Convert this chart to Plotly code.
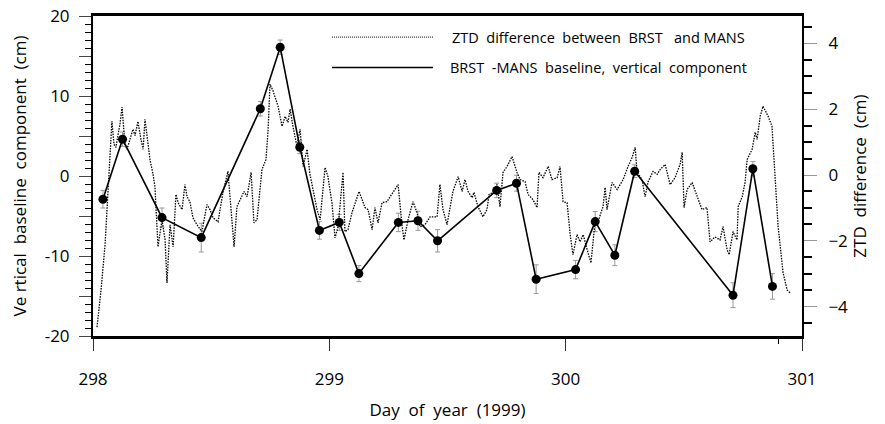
import plotly.graph_objects as go

# ---------------- data ----------------
# BRST-MANS baseline, vertical component (cm), left axis
base_day = [298.042, 298.125, 298.292, 298.458, 298.708, 298.792, 298.875, 298.958,
            299.042, 299.125, 299.292, 299.375, 299.458, 299.708, 299.792, 299.875,
            300.042, 300.125, 300.208, 300.292, 300.708, 300.792, 300.875]
base_cm = [-2.9, 4.6, -5.2, -7.7, 8.4, 16.1, 3.6, -6.8,
           -5.8, -12.2, -5.8, -5.6, -8.1, -1.8, -0.9, -12.9,
           -11.7, -5.7, -9.9, 0.6, -14.9, 0.9, -13.8]
base_err = [1.1, 0.9, 1.2, 1.8, 0.9, 0.9, 0.8, 1.1,
            1.0, 1.0, 1.15, 1.2, 1.4, 0.9, 1.0, 1.8,
            1.15, 1.25, 1.3, 0.8, 1.55, 0.9, 1.6]

# ZTD difference between BRST and MANS (cm), right axis
ztd_day = [
    298.017, 298.034, 298.051, 298.063, 298.072, 298.080, 298.089, 298.097, 298.106, 298.114,
    298.123, 298.135, 298.144, 298.157, 298.169, 298.178, 298.190, 298.203, 298.212, 298.220,
    298.229, 298.241, 298.254, 298.262, 298.275, 298.292, 298.305, 298.313, 298.326, 298.339,
    298.351, 298.360, 298.377, 298.389, 298.398, 298.410, 298.423, 298.440, 298.461, 298.474,
    298.482, 298.495, 298.508, 298.529, 298.550, 298.571, 298.580, 298.597, 298.609, 298.622,
    298.639, 298.652, 298.669, 298.681, 298.694, 298.715, 298.732, 298.741, 298.749, 298.762,
    298.770, 298.783, 298.800, 298.813, 298.825, 298.834, 298.846, 298.863, 298.876, 298.889,
    298.906, 298.918, 298.931, 298.948, 298.961, 298.982, 298.994, 299.011, 299.024, 299.037,
    299.058, 299.066, 299.079, 299.096, 299.126, 299.151, 299.164, 299.181, 299.193, 299.206,
    299.223, 299.244, 299.257, 299.270, 299.291, 299.308, 299.316, 299.333, 299.354, 299.371,
    299.384, 299.405, 299.426, 299.456, 299.468, 299.481, 299.498, 299.523, 299.545, 299.562,
    299.574, 299.587, 299.604, 299.612, 299.629, 299.650, 299.667, 299.676, 299.693, 299.710,
    299.722, 299.735, 299.752, 299.773, 299.794, 299.807, 299.828, 299.841, 299.862, 299.879,
    299.887, 299.904, 299.926, 299.942, 299.964, 299.976, 299.989, 300.006, 300.019, 300.031,
    300.048, 300.061, 300.074, 300.091, 300.107, 300.124, 300.137, 300.158, 300.167, 300.175,
    300.196, 300.218, 300.243, 300.264, 300.281, 300.294, 300.302, 300.315, 300.323, 300.336,
    300.349, 300.370, 300.387, 300.400, 300.421, 300.442, 300.463, 300.484, 300.493, 300.501,
    300.514, 300.535, 300.556, 300.577, 300.598, 300.611, 300.632, 300.653, 300.666, 300.683,
    300.692, 300.708, 300.725, 300.730, 300.747, 300.759, 300.768, 300.789, 300.802, 300.810,
    300.823, 300.835, 300.857, 300.873, 300.886, 300.899, 300.920, 300.937, 300.950]
ztd_cm = [
    -4.62, -3.49, -2.12, -0.44, 0.78, 1.63, 0.93, 0.84, 1.23, 1.54,
    2.06, 0.93, 0.78, 1.08, 1.39, 1.20, 1.63, 1.08, 0.78, 1.69,
    1.23, 0.47, 0.02, -0.35, -2.18, -1.36, -1.97, -3.28, -1.51, -2.18,
    -0.59, -0.84, -1.05, -0.29, -0.66, -0.81, -1.30, -1.51, -1.72, -1.27,
    -0.90, -1.05, -1.30, -1.42, -0.53, 0.11, -0.75, -2.18, -0.96, -0.75,
    -0.50, -0.66, 0.08, -1.45, -1.36, 0.17, 0.47, 1.39, 2.76, 2.55,
    2.39, 2.09, 1.48, 1.78, 1.60, 2.00, 1.48, 0.87, 1.39, 0.26,
    0.78, 0.02, -0.44, -1.05, -1.36, 0.23, -0.05, -0.84, -1.91, -1.57,
    0.08, -1.72, -1.66, -1.14, -0.50, -0.99, -1.05, -1.66, -0.99, -1.45,
    -0.84, -0.81, -0.66, -0.53, -0.29, -1.57, -1.97, -1.36, -0.81, -1.14,
    -1.57, -1.51, -1.27, -1.27, -0.29, -1.05, -1.51, -0.50, -0.05, -0.50,
    -0.14, -0.50, -0.69, -0.53, -0.96, -1.27, -1.05, -0.59, -0.53, -0.29,
    -0.96, 0.08, 0.26, 0.56, 0.08, -0.14, -0.20, -0.59, -0.75, -0.99,
    0.08, -0.08, 0.26, -0.14, -0.08, 0.26, -0.81, -0.84, -1.81, -2.42,
    -1.81, -2.03, -1.81, -2.27, -2.67, -1.45, -1.42, -0.96, -0.38, -1.05,
    -0.23, -0.44, -0.14, 0.26, 0.53, 0.84, 0.08, -0.05, -0.14, -0.66,
    -0.20, 0.11, 0.02, 0.17, 0.32, -0.29, -0.08, 0.32, 0.69, -0.99,
    -0.44, -0.23, -0.66, -1.05, -0.99, -2.03, -1.88, -1.97, -1.57, -2.27,
    -2.42, -1.72, -1.97, -0.96, -0.66, -0.23, 0.47, 0.78, 1.30, 1.08,
    1.78, 2.09, 1.78, 1.48, -0.05, -1.57, -2.97, -3.49, -3.58]

x_ticks = [298, 299, 300, 301]
x_ticktext = ["298", "299", "300", "301"]
y_ticks = [-20, -15, -10, -5, 0, 5, 10, 15, 20]
y_ticktext = ["-20", "", "-10", "", "0", "", "10", "", "20"]
legend_labels = ["ZTD  difference  between  BRST   and MANS",
                 "BRST  -MANS  baseline,  vertical  component"]

FONT = "Open Sans"

fig = go.Figure()

fig.add_trace(go.Scatter(
    x=ztd_day, y=ztd_cm, yaxis="y2", mode="lines",
    line=dict(color="black", width=1.3, dash="1.5px,1.2px"),
    name=legend_labels[0], showlegend=False))

fig.add_trace(go.Scatter(
    x=base_day, y=base_cm, mode="lines+markers",
    line=dict(color="black", width=1.6),
    marker=dict(color="black", size=9),
    error_y=dict(type="data", array=base_err, visible=True,
                 color="#999999", thickness=1, width=2.5),
    name=legend_labels[1], showlegend=False))

fig.update_layout(
    width=885, height=424,
    margin=dict(l=93, r=83, t=16, b=88, autoexpand=False),
    paper_bgcolor="white", plot_bgcolor="white",
    font=dict(family=FONT, size=17, color="black"),
    showlegend=False,
    xaxis=dict(
        range=[298, 301], tickvals=x_ticks, ticktext=x_ticktext,
        ticks="outside", ticklen=12, tickwidth=1, tickcolor="#333",
        ticklabelstandoff=14, automargin=False,
        showline=True, linewidth=3, linecolor="black", mirror=True,
        showgrid=False, zeroline=False,
        minor=dict(tickvals=[300.9], ticks="outside", ticklen=5, tickcolor="black"),
        title=dict(text="Day  of  year  (1999)", standoff=15, font=dict(size=17)),
    ),
    yaxis=dict(
        range=[-20, 20], tickvals=y_ticks, ticktext=y_ticktext,
        ticks="outside", ticklen=12, tickwidth=1, tickcolor="#444",
        ticklabelstandoff=6, automargin=False,
        minor=dict(dtick=1, ticks="outside", ticklen=6, tickcolor="black"),
        showline=True, linewidth=2, linecolor="black",
        showgrid=False, zeroline=False,
        title=dict(text="Ve rtical  baseline  component  (cm)", standoff=14,
                   font=dict(size=17)),
    ),
    yaxis2=dict(
        range=[-4.89, 4.83], overlaying="y", side="right",
        tick0=0, dtick=2, automargin=False,
        ticks="outside", ticklen=13, tickwidth=1, tickcolor="#999",
        ticklabelstandoff=8,
        minor=dict(dtick=0.5, ticks="outside", ticklen=8, tickwidth=2, tickcolor="black"),
        showline=True, linewidth=2, linecolor="black",
        showgrid=False, zeroline=False,
        title=dict(text="ZTD  difference  (cm)", standoff=5, font=dict(size=17)),
    ),
)

# manual legend (line samples + labels), paper coordinates of plot area
fig.add_shape(type="line", xref="paper", yref="paper", x0=0.337, x1=0.4795, y0=0.934, y1=0.934,
              line=dict(color="black", width=1, dash="1px,1px"))
fig.add_shape(type="line", xref="paper", yref="paper", x0=0.337, x1=0.4795, y0=0.839, y1=0.839,
              line=dict(color="black", width=1.6))
fig.add_annotation(xref="paper", yref="paper", x=0.5035, y=0.934, text=legend_labels[0],
                   showarrow=False, xanchor="left", yanchor="middle", font=dict(size=14.5))
fig.add_annotation(xref="paper", yref="paper", x=0.5007, y=0.839, text=legend_labels[1],
                   showarrow=False, xanchor="left", yanchor="middle", font=dict(size=14.5))

fig.write_html("out.html")
